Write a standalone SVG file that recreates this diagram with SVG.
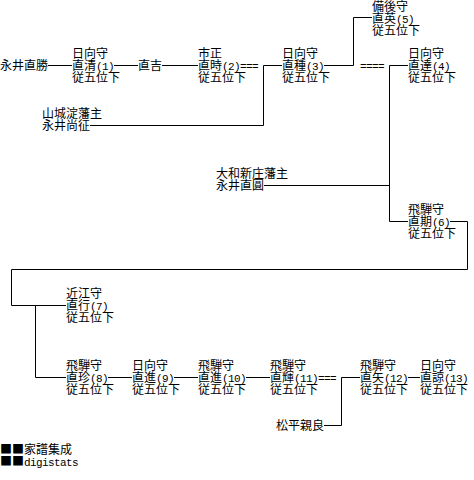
<svg xmlns="http://www.w3.org/2000/svg" width="474" height="480" viewBox="0 0 474 480">
<style>
text{font-family:"Noto Sans CJK JP","Noto Sans CJK SC",sans-serif;font-size:12px;fill:#000}
.a{font-family:"Liberation Mono",monospace;font-size:11px;letter-spacing:-0.6px}
.c{fill:none;stroke:#000;stroke-width:1}
</style>
<rect width="474" height="480" fill="#fff"/>
<g id="connectors">
<path class="c" d="M48 65.5H72M114 65.5H138M162 65.5H198"/>
<path class="c" d="M90 125.5H263.5V65.5H282"/>
<path class="c" d="M324 65.5H353.5V17.5H372"/>
<path class="c" d="M408 65.5H389.5V221.5H408"/>
<path class="c" d="M264 185.5H389.5"/>
<path class="c" d="M450 221.5H467.5V269.5H11.5V305.5H66"/>
<path class="c" d="M35.5 305.5V377.5H66"/>
<path class="c" d="M108 377.5H132M174 377.5H198M246 377.5H270M408 377.5H420"/>
<path class="c" d="M324 425.5H341.5V377.5H360"/>
<text x="360" y="70" class="a">====</text>
</g>
<g id="n_naokatsu"><text x="0" y="70">永井直勝</text></g>
<g id="n1"><text y="58"><tspan x="72">日向守</tspan><tspan x="72" dy="12">直清<tspan class="a">(1)</tspan></tspan><tspan x="72" dy="12">従五位下</tspan></text></g>
<g id="n_naoyoshi"><text x="138" y="70">直吉</text></g>
<g id="n2"><text y="58"><tspan x="198">市正</tspan><tspan x="198" dy="12">直時<tspan class="a">(2)===</tspan></tspan><tspan x="198" dy="12">従五位下</tspan></text></g>
<g id="n3"><text y="58"><tspan x="282">日向守</tspan><tspan x="282" dy="12">直種<tspan class="a">(3)</tspan></tspan><tspan x="282" dy="12">従五位下</tspan></text></g>
<g id="n5"><text y="10.5"><tspan x="372">備後守</tspan><tspan x="372" dy="12">直英<tspan class="a">(5)</tspan></tspan><tspan x="372" dy="12">従五位下</tspan></text></g>
<g id="n4"><text y="58"><tspan x="408">日向守</tspan><tspan x="408" dy="12">直達<tspan class="a">(4)</tspan></tspan><tspan x="408" dy="12">従五位下</tspan></text></g>
<g id="n_naoyuki"><text y="118"><tspan x="42">山城淀藩主</tspan><tspan x="42" dy="12">永井尚征</tspan></text></g>
<g id="n_naomitsu"><text y="178"><tspan x="216">大和新庄藩主</tspan><tspan x="216" dy="12">永井直圓</tspan></text></g>
<g id="n6"><text y="214"><tspan x="408">飛騨守</tspan><tspan x="408" dy="12">直期<tspan class="a">(6)</tspan></tspan><tspan x="408" dy="12">従五位下</tspan></text></g>
<g id="n7"><text y="298"><tspan x="66">近江守</tspan><tspan x="66" dy="12">直行<tspan class="a">(7)</tspan></tspan><tspan x="66" dy="12">従五位下</tspan></text></g>
<g id="n8"><text y="370"><tspan x="66">飛騨守</tspan><tspan x="66" dy="12">直珍<tspan class="a">(8)</tspan></tspan><tspan x="66" dy="12">従五位下</tspan></text></g>
<g id="n9"><text y="370"><tspan x="132">日向守</tspan><tspan x="132" dy="12">直進<tspan class="a">(9)</tspan></tspan><tspan x="132" dy="12">従五位下</tspan></text></g>
<g id="n10"><text y="370"><tspan x="198">飛騨守</tspan><tspan x="198" dy="12">直進<tspan class="a">(10)</tspan></tspan><tspan x="198" dy="12">従五位下</tspan></text></g>
<g id="n11"><text y="370"><tspan x="270">飛騨守</tspan><tspan x="270" dy="12">直輝<tspan class="a">(11)===</tspan></tspan><tspan x="270" dy="12">従五位下</tspan></text></g>
<g id="n12"><text y="370"><tspan x="360">飛騨守</tspan><tspan x="360" dy="12">直矢<tspan class="a">(12)</tspan></tspan><tspan x="360" dy="12">従五位下</tspan></text></g>
<g id="n13"><text y="370"><tspan x="420">日向守</tspan><tspan x="420" dy="12">直諒<tspan class="a">(13)</tspan></tspan><tspan x="420" dy="12">従五位下</tspan></text></g>
<g id="n_matsudaira"><text x="276" y="430">松平親良</text></g>
<g id="footer"><text y="454"><tspan x="0">■■家譜集成</tspan><tspan x="0" dy="12">■■<tspan class="a">digistats</tspan></tspan></text></g>
</svg>
